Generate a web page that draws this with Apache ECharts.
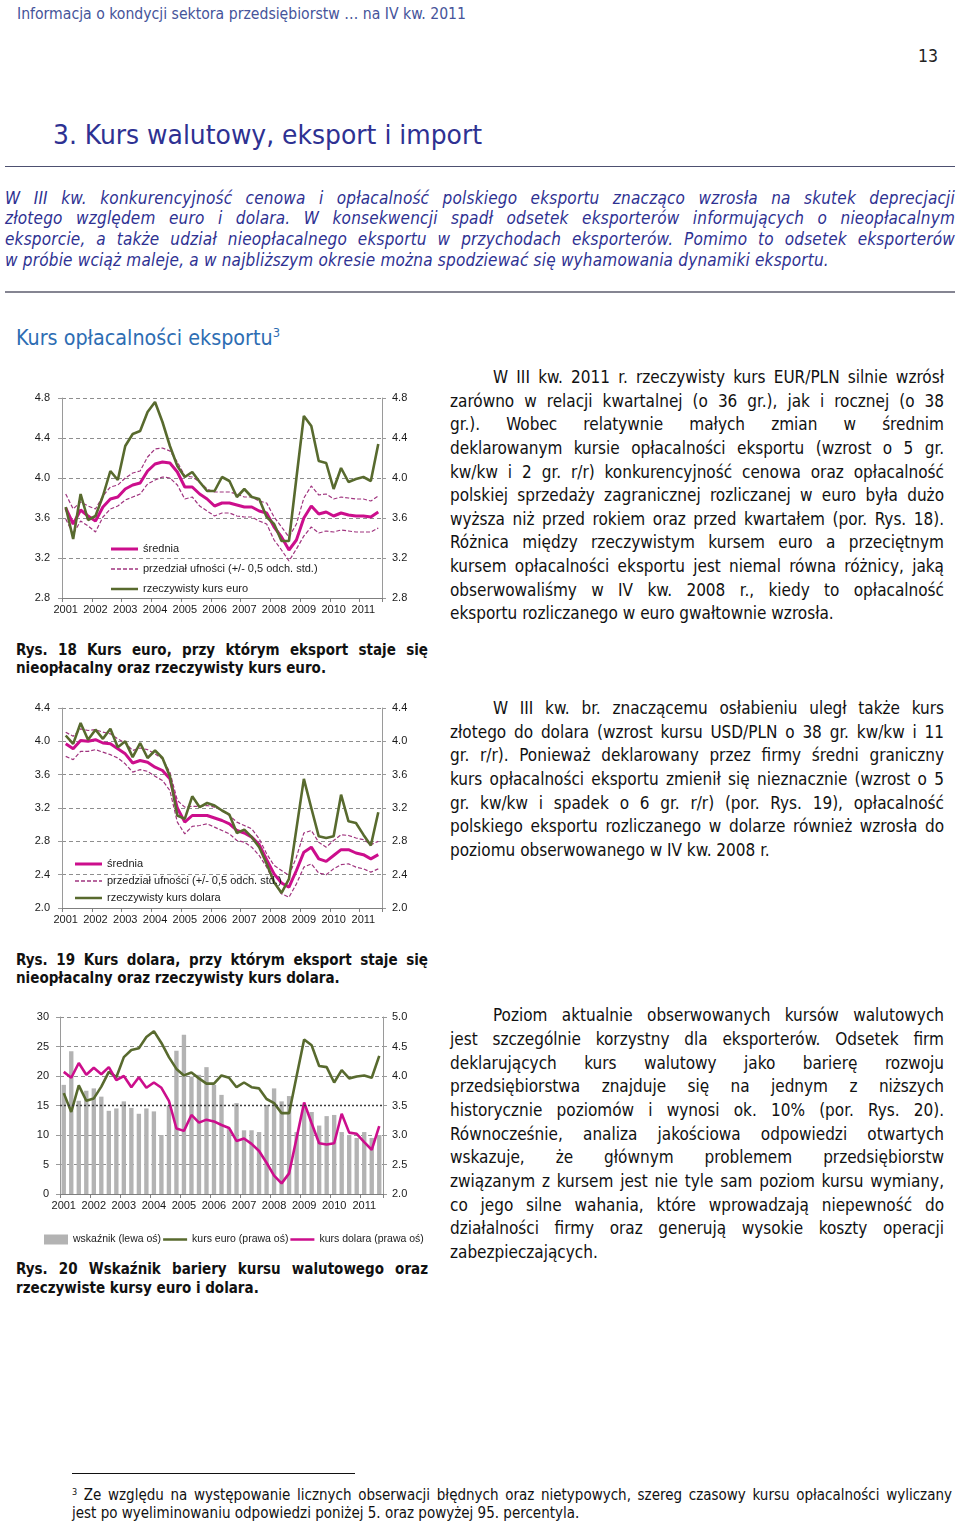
<!DOCTYPE html>
<html lang="pl">
<head>
<meta charset="utf-8">
<script src="https://cdn.jsdelivr.net/npm/echarts@6/dist/echarts.min.js"></script>
<style>
  html,body{margin:0;padding:0;background:#fff;}
  body{position:relative;width:960px;height:1526px;overflow:hidden;font-family:'DejaVu Sans Condensed','DejaVu Sans',sans-serif;color:#111;}
  .ln{position:absolute;white-space:nowrap;overflow:visible;}
  .ln span{display:inline-block;white-space:nowrap;}
  .body{font-size:17px;color:#111;}
  .intro{font-size:17px;font-style:italic;color:#2e3192;letter-spacing:0.2px;}
  .cap{font-size:15px;font-weight:bold;color:#111;}
  .foot{font-size:15px;color:#111;}
  .fit span{transform-origin:0 50%;}
  .rule{position:absolute;}
  .chart{position:absolute;}
  sup{font-size:60%;line-height:0;vertical-align:0.6em;}
</style>
</head>
<body>
<div class="rule" style="left:5px;top:166px;width:950px;height:0;border-top:1.5px solid #4d5070;"></div>
<div class="rule" style="left:5px;top:291px;width:950px;height:0;border-top:2px solid #858592;"></div>
<div class="rule" style="left:72px;top:1473px;width:283px;height:0;border-top:1.5px solid #111;"></div>

<div id="c1" class="chart" style="left:0;top:380px;width:440px;height:250px;"></div>
<div id="c2" class="chart" style="left:0;top:690px;width:440px;height:250px;"></div>
<div id="c3" class="chart" style="left:0;top:1000px;width:445px;height:260px;"></div>

<script>
// ---------------- DATA ----------------
const yearLabels = ['2001','2002','2003','2004','2005','2006','2007','2008','2009','2010','2011'];
const quarterNames = ['I','II','III','IV'];
const nQuarters = 43; // 2001 Q1 – 2011 Q3

// Rys. 18 – euro
const euroActual = [3.71,3.39,3.84,3.58,3.62,3.82,4.07,3.98,4.32,4.44,4.47,4.66,4.76,4.56,4.32,4.12,4.01,4.06,3.96,3.87,3.87,
                    4.01,3.97,3.81,3.89,3.81,3.79,3.61,3.54,3.37,3.37,4.00,4.62,4.52,4.17,4.15,3.89,4.10,3.96,3.99,4.01,3.97,4.34];
const euroMean   = [3.70,3.54,3.68,3.62,3.57,3.71,3.79,3.81,3.89,3.93,3.95,4.07,4.14,4.16,4.15,4.06,3.91,3.91,3.84,3.79,3.72,
                    3.75,3.75,3.73,3.71,3.71,3.67,3.65,3.51,3.41,3.28,3.38,3.60,3.72,3.64,3.66,3.62,3.65,3.63,3.62,3.62,3.61,3.66];
const euroUpper  = [3.84,3.69,3.76,3.72,3.69,3.82,3.91,3.93,4.00,4.05,4.07,4.21,4.29,4.30,4.27,4.16,4.02,4.01,3.96,3.89,3.86,
                    3.86,3.86,3.84,3.81,3.81,3.77,3.75,3.61,3.51,3.41,3.54,3.80,3.92,3.83,3.84,3.79,3.81,3.80,3.79,3.79,3.77,3.82];
const euroLower  = [3.59,3.44,3.57,3.52,3.46,3.61,3.69,3.72,3.78,3.81,3.84,3.94,3.98,4.01,4.00,3.93,3.79,3.81,3.72,3.67,3.62,
                    3.65,3.65,3.62,3.61,3.61,3.57,3.54,3.38,3.28,3.17,3.29,3.42,3.51,3.45,3.47,3.46,3.48,3.47,3.46,3.46,3.46,3.50];

// Rys. 19 – dolar
const dollarActual = [4.07,3.97,4.22,4.02,4.14,4.03,4.15,3.93,4.00,3.81,3.98,3.80,3.89,3.80,3.58,3.11,3.07,3.34,3.21,3.26,3.23,
                      3.17,3.12,2.90,2.94,2.85,2.73,2.53,2.31,2.18,2.35,2.95,3.55,3.20,2.86,2.84,2.86,3.36,3.04,3.02,2.88,2.75,3.15];
const dollarMean   = [3.97,3.91,4.01,4.00,4.02,3.98,3.97,3.91,3.85,3.74,3.77,3.75,3.69,3.65,3.55,3.20,3.03,3.11,3.11,3.11,3.08,
                      3.05,3.01,2.93,2.90,2.85,2.76,2.58,2.41,2.30,2.25,2.45,2.67,2.73,2.59,2.56,2.63,2.70,2.70,2.66,2.64,2.59,2.64];
const dollarUpper  = [4.11,4.06,4.15,4.13,4.14,4.11,4.09,4.03,3.98,3.89,3.92,3.90,3.85,3.79,3.63,3.29,3.21,3.22,3.22,3.23,3.21,
                      3.17,3.11,3.03,2.99,2.95,2.83,2.65,2.51,2.45,2.39,2.61,2.90,2.93,2.79,2.73,2.81,2.88,2.87,2.84,2.82,2.76,2.80];
const dollarLower  = [3.82,3.78,3.88,3.88,3.90,3.87,3.84,3.80,3.73,3.63,3.66,3.64,3.58,3.53,3.41,3.03,2.89,2.98,2.99,3.01,2.97,
                      2.93,2.89,2.81,2.79,2.73,2.63,2.49,2.31,2.17,2.13,2.29,2.49,2.53,2.42,2.40,2.47,2.52,2.53,2.49,2.47,2.43,2.47];

// Rys. 20 – wskaźnik bariery kursu walutowego (%)
const barrierIndex = [18.5,24.2,15.8,17.5,17.9,16.5,14.1,14.5,15.7,14.6,13.6,14.5,14.0,10.0,15.0,24.3,27.0,19.9,20.2,21.5,18.5,16.8,
                      11.0,15.4,10.8,10.8,10.5,15.1,17.9,15.7,16.6,10.5,15.0,13.9,11.6,13.2,13.4,10.5,10.0,9.5,10.5,9.5,10.0];
const barrierRef = 15;

// axis ranges / ticks
const axis18 = {min:2.8, max:4.8, interval:0.4};
const axis19 = {min:2.0, max:4.4, interval:0.4};
const axis20L = {min:0, max:30, interval:5};
const axis20R = {min:2.0, max:5.0, interval:0.5};

const categories = [];
yearLabels.forEach(y => quarterNames.forEach(q => categories.push(y + ' ' + q)));
categories.length = nQuarters;

// ---------------- STYLE ----------------
const FN = "'Liberation Sans',Arial,sans-serif";
const C_GREEN = '#586a2e';
const C_PINK = '#cc0e8c';
const C_BAND = '#a0347f';
const C_GRID = '#8e8e8e';
const C_AXIS = '#9a9a9a';
const C_TXT = '#1a1a1a';

// legend icons drawn as horizontal line samples (box w x h, line of thickness t, optional dashes)
function lineIcon(w, h, t, dash, gap){
  const y0 = (h - t) / 2;
  let p = 'path://M0,0h0.01v0.01h-0.01z M' + (w - 0.01) + ',' + (h - 0.01) + 'h0.01v0.01h-0.01z';
  if (!dash) {
    p += ' M0,' + y0 + 'h' + w + 'v' + t + 'h-' + w + 'z';
  } else {
    for (let x = 0; x < w; x += dash + gap) {
      const len = Math.min(dash, w - x);
      p += ' M' + x + ',' + y0 + 'h' + len + 'v' + t + 'h-' + len + 'z';
    }
  }
  return p;
}

function xAxisCfg(){
  return {
    type:'category', data:categories, boundaryGap:true,
    axisLine:{lineStyle:{color:'#7f7f7f',width:1}},
    axisTick:{show:true, interval:3, length:4, lineStyle:{color:'#7f7f7f'}},
    axisLabel:{interval:3, formatter:v=>v.split(' ')[0], fontFamily:FN, fontSize:11, color:C_TXT, margin:6}
  };
}
function yAxisCfg(r, pos, dec, margin, split){
  return {
    type:'value', position:pos, min:r.min, max:r.max, interval:r.interval,
    axisLine:{show:true, lineStyle:{color:C_AXIS}},
    axisTick:{show:true, length:4, lineStyle:{color:C_AXIS}},
    axisLabel:{formatter:v=>v.toFixed(dec), fontFamily:FN, fontSize:11, color:C_TXT, margin:margin},
    splitLine: split ? split : {show:false}
  };
}
const dashedSplit = {show:true, lineStyle:{type:[4,3], color:C_GRID, width:1}};

function bandChart(el, r, actual, mean, upper, lower, actualName, legendLeft, legendTop, legendGap){
  const bandName = 'przedział ufności (+/- 0,5 odch. std.)';
  const chart = echarts.init(document.getElementById(el));
  chart.setOption({
    animation:false,
    grid:{left:62, right:58, top:18, bottom:32},
    xAxis:xAxisCfg(),
    yAxis:[yAxisCfg(r,'left',1,12,dashedSplit), yAxisCfg(r,'right',1,10,null)],
    legend:{
      orient:'vertical', left:legendLeft, top:legendTop, itemWidth:27, itemHeight:14, itemGap:legendGap,
      data:[
        {name:'średnia', icon:lineIcon(27,14,3)},
        {name:bandName, icon:lineIcon(27,14,1.3,4,2)},
        {name:actualName, icon:lineIcon(27,14,2.6)}
      ],
      textStyle:{fontFamily:FN, fontSize:11, color:C_TXT}, selectedMode:false
    },
    series:[
      {name:bandName, type:'line', data:upper, symbol:'none', lineStyle:{color:C_BAND, width:1.2, type:[4,2]}, itemStyle:{color:C_BAND}},
      {name:bandName, type:'line', data:lower, symbol:'none', lineStyle:{color:C_BAND, width:1.2, type:[4,2]}, itemStyle:{color:C_BAND}},
      {name:'średnia', type:'line', data:mean, symbol:'none', lineStyle:{color:C_PINK, width:3}, itemStyle:{color:C_PINK}},
      {name:actualName, type:'line', data:actual, symbol:'none', lineStyle:{color:C_GREEN, width:2.6}, itemStyle:{color:C_GREEN}}
    ]
  });
}

bandChart('c1', axis18, euroActual, euroMean, euroUpper, euroLower, 'rzeczywisty kurs euro', 106, 157, 6);
bandChart('c2', axis19, dollarActual, dollarMean, dollarUpper, dollarLower, 'rzeczywisty kurs dolara', 70, 162, 3);

(function(){
  const chart = echarts.init(document.getElementById('c3'));
  const splitColors = [];
  for (let v = axis20L.min; v <= axis20L.max; v += axis20L.interval) splitColors.push(v === barrierRef ? 'rgba(0,0,0,0)' : C_GRID);
  chart.setOption({
    animation:false,
    grid:{left:60, right:62, top:17, bottom:66},
    xAxis:xAxisCfg(),
    yAxis:[
      yAxisCfg(axis20L,'left',0,11,{show:true, lineStyle:{type:[4,3], color:splitColors, width:1}}),
      yAxisCfg(axis20R,'right',1,9,null)
    ],
    legend:{
      orient:'horizontal', left:44, top:234, itemWidth:24, itemHeight:10, itemGap:2, padding:0, width:420,
      data:[
        {name:'wskaźnik (lewa oś)', icon:'rect'},
        {name:'kurs euro (prawa oś)', icon:lineIcon(24,10,2.4)},
        {name:'kurs dolara (prawa oś)', icon:lineIcon(24,10,2.4)}
      ],
      textStyle:{fontFamily:FN, fontSize:10.5, color:C_TXT}, selectedMode:false
    },
    series:[
      {name:'wskaźnik (lewa oś)', type:'bar', yAxisIndex:0, data:barrierIndex, barWidth:'58%', itemStyle:{color:'#b3b3b3'},
       markLine:{silent:true, symbol:'none', label:{show:false}, data:[{yAxis:barrierRef}], lineStyle:{type:[2,2], color:'#3a3a3a', width:1.3}}},
      {name:'kurs euro (prawa oś)', type:'line', yAxisIndex:1, data:euroActual, symbol:'none', lineStyle:{color:C_GREEN, width:2.6}, itemStyle:{color:C_GREEN}},
      {name:'kurs dolara (prawa oś)', type:'line', yAxisIndex:1, data:dollarActual, symbol:'none', lineStyle:{color:C_PINK, width:2.6}, itemStyle:{color:C_PINK}}
    ]
  });
})();

// ---------------- TEXT ----------------
function justify(s, W){
  const w = s.getBoundingClientRect().width;
  const n = (s.textContent.trim().match(/\s+/g) || []).length;
  if (n) s.style.wordSpacing = ((W - w) / n) + 'px';
}
function para(lines, x, cy0, w, lh, cls, indent, justifyLast){
  lines.forEach((t, k) => {
    const d = document.createElement('div');
    d.className = 'ln ' + cls;
    const ind = k === 0 ? indent : 0;
    d.style.left = (x + ind) + 'px';
    d.style.top = (cy0 + k * lh - lh / 2) + 'px';
    d.style.width = (w - ind) + 'px';
    d.style.height = lh + 'px';
    d.style.lineHeight = lh + 'px';
    const s = document.createElement('span');
    s.innerHTML = t;
    d.appendChild(s);
    document.body.appendChild(d);
    if (k < lines.length - 1 || justifyLast) justify(s, w - ind);
  });
}
function fit(html, x, cy, w, h, style){
  const d = document.createElement('div');
  d.className = 'ln fit';
  d.style.left = x + 'px'; d.style.top = (cy - h / 2) + 'px';
  d.style.height = h + 'px'; d.style.lineHeight = h + 'px';
  d.style.cssText += style;
  const s = document.createElement('span');
  s.innerHTML = html;
  d.appendChild(s);
  document.body.appendChild(d);
  const sw = s.getBoundingClientRect().width;
  if (w) s.style.transform = 'scaleX(' + (w / sw) + ')';
}

fit('Informacja o kondycji sektora przedsiębiorstw … na IV kw. 2011', 17, 14, 449, 20, 'font-size:15px;color:#46549a;');
fit('13', 918, 56, 20, 24, 'font-size:18px;color:#222;');
fit('3. Kurs walutowy, eksport i import', 53, 135, 429, 34, 'font-size:27px;color:#2e3192;');
fit('Kurs opłacalności eksportu<sup>3</sup>', 16, 338, 264, 28, 'font-size:21px;color:#2d6db3;');

para([
  'W III kw. konkurencyjność cenowa i opłacalność polskiego eksportu znacząco wzrosła na skutek deprecjacji',
  'złotego względem euro i dolara. W konsekwencji spadł odsetek eksporterów informujących o nieopłacalnym',
  'eksporcie, a także udział nieopłacalnego eksportu w przychodach eksporterów. Pomimo to odsetek eksporterów',
  'w próbie wciąż maleje, a w najbliższym okresie można spodziewać się wyhamowania dynamiki eksportu.'
], 5, 198, 950, 20.67, 'intro', 0, false);

para([
  'W III kw. 2011 r. rzeczywisty kurs EUR/PLN silnie wzrósł',
  'zarówno w relacji kwartalnej (o 36 gr.), jak i rocznej (o 38',
  'gr.). Wobec relatywnie małych zmian w średnim',
  'deklarowanym kursie opłacalności eksportu (wzrost o 5 gr.',
  'kw/kw i 2 gr. r/r) konkurencyjność cenowa oraz opłacalność',
  'polskiej sprzedaży zagranicznej rozliczanej w euro była dużo',
  'wyższa niż przed rokiem oraz przed kwartałem (por. Rys. 18).',
  'Różnica między rzeczywistym kursem euro a przeciętnym',
  'kursem opłacalności eksportu jest niemal równa różnicy, jaką',
  'obserwowaliśmy w IV kw. 2008 r., kiedy to opłacalność',
  'eksportu rozliczanego w euro gwałtownie wzrosła.'
], 450, 378, 494, 23.6, 'body', 43, false);

para([
  'W III kw. br. znaczącemu osłabieniu uległ także kurs',
  'złotego do dolara (wzrost kursu USD/PLN o 38 gr. kw/kw i 11',
  'gr. r/r). Ponieważ deklarowany przez firmy średni graniczny',
  'kurs opłacalności eksportu zmienił się nieznacznie (wzrost o 5',
  'gr. kw/kw i spadek o 6 gr. r/r) (por. Rys. 19), opłacalność',
  'polskiego eksportu rozliczanego w dolarze również wzrosła do',
  'poziomu obserwowanego w IV kw. 2008 r.'
], 450, 709, 494, 23.6, 'body', 43, false);

para([
  'Poziom aktualnie obserwowanych kursów walutowych',
  'jest szczególnie korzystny dla eksporterów. Odsetek firm',
  'deklarujących kurs walutowy jako barierę rozwoju',
  'przedsiębiorstwa znajduje się na jednym z niższych',
  'historycznie poziomów i wynosi ok. 10% (por. Rys. 20).',
  'Równocześnie, analiza jakościowa odpowiedzi otwartych',
  'wskazuje, że głównym problemem przedsiębiorstw',
  'związanym z kursem jest nie tyle sam poziom kursu wymiany,',
  'co jego silne wahania, które wprowadzają niepewność do',
  'działalności firmy oraz generują wysokie koszty operacji',
  'zabezpieczających.'
], 450, 1016, 494, 23.7, 'body', 43, false);

para(['Rys. 18 Kurs euro, przy którym eksport staje się','nieopłacalny oraz rzeczywisty kurs euro.'], 16, 650, 412, 18, 'cap', 0, false);
para(['Rys. 19 Kurs dolara, przy którym eksport staje się','nieopłacalny oraz rzeczywisty kurs dolara.'], 16, 960, 412, 18, 'cap', 0, false);
para(['Rys. 20 Wskaźnik bariery kursu walutowego oraz','rzeczywiste kursy euro i dolara.'], 16, 1269, 412, 19, 'cap', 0, false);

para([
  '<sup>3</sup> Ze względu na występowanie licznych obserwacji błędnych oraz nietypowych, szereg czasowy kursu opłacalności wyliczany',
  'jest po wyeliminowaniu odpowiedzi poniżej 5. oraz powyżej 95. percentyla.'
], 72, 1495, 880, 18, 'foot', 0, false);
</script>
</body>
</html>
